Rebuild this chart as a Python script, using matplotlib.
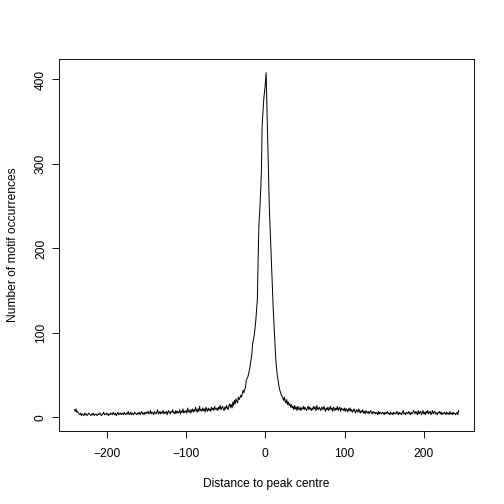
import numpy as np
import matplotlib.pyplot as plt

plt.rcParams['font.family'] = ['Liberation Sans', 'DejaVu Sans']

# distance to peak centre, one bin per base
dist = np.arange(-241, 245)

# motif counts, 10 per row
counts = [
    9, 7, 10, 6, 7, 5, 4, 3, 5, 2,
    4, 3, 2, 5, 3, 4, 2, 3, 5, 4,
    3, 2, 4, 3, 5, 2, 3, 4, 3, 2,
    4, 3, 5, 4, 2, 3, 4, 6, 3, 4,
    3, 5, 4, 2, 4, 3, 5, 4, 3, 6,
    4, 3, 5, 2, 4, 6, 3, 4, 5, 3,
    5, 4, 3, 6, 4, 3, 5, 4, 7, 3,
    4, 6, 3, 5, 4, 3, 6, 5, 4, 3,
    5, 4, 6, 3, 5, 7, 4, 5, 3, 6,
    4, 6, 5, 7, 4, 5, 8, 4, 6, 5,
    3, 7, 5, 4, 6, 9, 4, 5, 7, 4,
    6, 5, 8, 4, 6, 5, 7, 3, 6, 8,
    5, 4, 7, 6, 9, 5, 6, 4, 8, 5,
    7, 5, 6, 9, 4, 7, 6, 10, 5, 7,
    6, 8, 5, 11, 7, 6, 9, 5, 8, 10,
    6, 9, 7, 12, 8, 6, 10, 7, 13, 8,
    9, 7, 11, 8, 10, 6, 12, 9, 7, 11,
    8, 10, 7, 12, 9, 11, 8, 13, 10, 9,
    11, 8, 12, 10, 14, 9, 11, 13, 10, 8,
    12, 10, 14, 11, 9, 13, 16, 12, 15, 11,
    18, 14, 20, 16, 22, 19, 17, 24, 21, 23,
    26, 24, 28, 32, 29, 33, 35, 44, 46, 48,
    52, 56, 62, 68, 75, 87, 92, 97, 105, 115,
    128, 140, 190, 230, 245, 265, 290, 345, 360, 376,
    385, 395, 408, 370, 330, 290, 250, 225, 200, 175,
    150, 128, 110, 92, 72, 60, 50, 45, 38, 33,
    30, 27, 25, 23, 20, 24, 19, 17, 21, 15,
    18, 14, 16, 12, 15, 11, 13, 9, 14, 10,
    12, 8, 13, 10, 9, 12, 8, 11, 10, 13,
    9, 12, 10, 8, 11, 13, 9, 12, 10, 8,
    11, 9, 13, 10, 12, 8, 14, 10, 9, 12,
    10, 8, 12, 11, 9, 13, 10, 7, 11, 9,
    12, 8, 10, 13, 9, 11, 7, 12, 10, 8,
    11, 9, 13, 8, 10, 12, 7, 11, 9, 10,
    8, 11, 7, 10, 9, 6, 10, 8, 11, 7,
    9, 6, 8, 10, 7, 5, 9, 8, 6, 10,
    7, 5, 8, 6, 9, 5, 7, 4, 8, 6,
    5, 7, 4, 6, 8, 5, 4, 7, 5, 6,
    4, 6, 5, 3, 7, 4, 6, 5, 4, 6,
    5, 3, 6, 4, 5, 7, 4, 5, 3, 6,
    4, 5, 3, 6, 4, 5, 4, 7, 5, 3,
    6, 4, 5, 3, 6, 8, 4, 5, 3, 6,
    5, 4, 7, 5, 3, 6, 4, 5, 8, 6,
    4, 7, 5, 3, 8, 4, 6, 7, 3, 5,
    8, 4, 6, 3, 7, 5, 8, 4, 6, 7,
    3, 5, 8, 4, 6, 7, 4, 5, 3, 6,
    5, 7, 4, 6, 3, 5, 4, 6, 5, 3,
    6, 4, 5, 3, 7, 4, 5, 3, 6, 4,
    5, 3, 4, 6, 3, 8,
]

xticks = [-200, -100, 0, 100, 200]
yticks = [0, 100, 200, 300, 400]

fig = plt.figure(figsize=(7, 7), dpi=72)
ax = fig.add_axes([59/504, 73/504, 415/504, 372/504])

ax.plot(dist, counts, color='black', lw=1.0)

# R style 4% padding
xr = dist.max() - dist.min()
ax.set_xlim(dist.min() - 0.04*xr, dist.max() + 0.04*xr)
yr = max(counts) - min(counts)
ax.set_ylim(0 - 0.04*yr, max(counts) + 0.04*yr)

ax.set_xticks(xticks)
ax.set_yticks(yticks)
ax.tick_params(length=7, width=0.9, labelsize=12, direction='out')
ax.tick_params(axis='x', pad=10)
ax.tick_params(axis='y', pad=5)
for lab in ax.get_yticklabels():
    lab.set_rotation(90)
    lab.set_va('center')
for s in ax.spines.values():
    s.set_linewidth(0.9)

ax.set_xlabel('Distance to peak centre', fontsize=12, labelpad=18)
ax.set_ylabel('Number of motif occurrences', fontsize=12, labelpad=16)

fig.savefig('out.png', dpi=72)
